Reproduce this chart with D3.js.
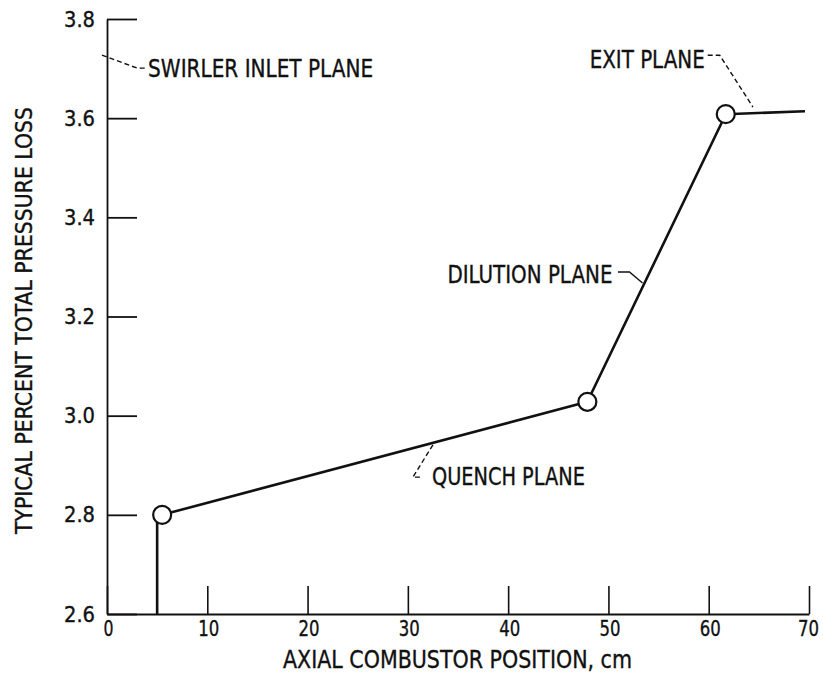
<!DOCTYPE html>
<html>
<head>
<meta charset="utf-8">
<script src="https://cdn.jsdelivr.net/npm/d3@7"></script>
<style>
  html, body { margin: 0; padding: 0; background: #fff; }
  svg text { font-family: "DejaVu Sans Condensed", "DejaVu Sans", sans-serif; fill: #111; stroke: #111; stroke-width: 0.35px; }
</style>
</head>
<body>
<svg id="chart" width="823" height="677"></svg>
<script>
// ---- data ----
const positions = [5.0, 5.0, 5.5, 47.9, 61.7, 69.6];           // axial position, cm
const pressureLoss = [2.6, 2.79, 2.80, 3.028, 3.608, 3.614];      // percent total pressure loss
const markerPositions = [5.5, 47.9, 61.7];
const markerValues = [2.80, 3.028, 3.608];
const xTicks = [0, 10, 20, 30, 40, 50, 60, 70];
const yTicks = [2.6, 2.8, 3.0, 3.2, 3.4, 3.6, 3.8];
const yTickLabels = ["2.6", "2.8", "3.0", "3.2", "3.4", "3.6", "3.8"];
const xTitle = "AXIAL COMBUSTOR POSITION, cm";
const yTitle = "TYPICAL PERCENT TOTAL PRESSURE LOSS";
// annotation labels (in data units)
const labelNames = ["SWIRLER INLET PLANE", "EXIT PLANE", "DILUTION PLANE", "QUENCH PLANE"];
const labelAnchor = ["start", "end", "end", "start"];
const labelX = [4.1, 59.6, 50.4, 32.4];
const labelY = [3.683, 3.701, 3.2676, 2.860];
const labelWidth = [225, 115, 165, 153];
const leaderX = [[-0.5, 3.0, 4.0], [59.9, 61.1, 64.4], [50.95, 52.1, 53.4], [32.5, 30.5, 31.3]];
const leaderY = [[3.727, 3.701, 3.701], [3.727, 3.727, 3.6225], [3.2897, 3.2897, 3.2676], [2.941, 2.876, 2.876]];
const leaderDashed = [true, true, false, true];

// ---- chart ----
const svg = d3.select("#chart");
const x = d3.scaleLinear().domain([0, 70]).range([107, 809]);
const y = d3.scaleLinear().domain([2.6, 3.8]).range([614, 19]);

const tickFont = 22;
const labelFont = 24.5;

// y axis
const yAxis = d3.axisLeft(y)
  .tickValues(yTicks)
  .tickFormat((d, i) => yTickLabels[i])
  .tickSizeInner(-30)
  .tickSizeOuter(0)
  .tickPadding(12);
const gy = svg.append("g").attr("transform", `translate(${x(0)},0)`).call(yAxis);
gy.select(".domain").attr("stroke", "#111").attr("stroke-width", 1.8);
gy.selectAll(".tick line").attr("stroke", "#111").attr("stroke-width", 1.8);
gy.selectAll(".tick text").attr("font-size", tickFont).attr("font-family", null)
  .attr("textLength", 31).attr("lengthAdjust", "spacingAndGlyphs");

// x axis
const xAxis = d3.axisBottom(x)
  .tickValues(xTicks)
  .tickSizeInner(-28)
  .tickSizeOuter(0)
  .tickPadding(6);
const gx = svg.append("g").attr("transform", `translate(0,${y(2.6)})`).call(xAxis);
gx.select(".domain").attr("stroke", "#111").attr("stroke-width", 1.8);
gx.selectAll(".tick line").attr("stroke", "#111").attr("stroke-width", 1.6);
gx.selectAll(".tick text").attr("font-size", tickFont).attr("font-family", null)
  .attr("dx", d => d === 70 ? -1 : 1)
  .attr("textLength", d => String(d).length * 11 - 1).attr("lengthAdjust", "spacingAndGlyphs");

// axis titles
svg.append("text")
  .attr("x", 457.5).attr("y", 668)
  .attr("text-anchor", "middle")
  .attr("font-size", 25.5)
  .attr("textLength", 349).attr("lengthAdjust", "spacingAndGlyphs")
  .text(xTitle);
svg.append("text")
  .attr("transform", "translate(32,320.5) rotate(-90)")
  .attr("text-anchor", "middle")
  .attr("font-size", 23.5)
  .attr("textLength", 427).attr("lengthAdjust", "spacingAndGlyphs")
  .text(yTitle);

// data line
const line = d3.line().x(d => x(d[0])).y(d => y(d[1]));
svg.append("path")
  .datum(positions.map((p, i) => [p, pressureLoss[i]]))
  .attr("d", line)
  .attr("fill", "none")
  .attr("stroke", "#111")
  .attr("stroke-width", 2.6)
  .attr("stroke-linejoin", "round");

// markers
svg.selectAll("circle.m")
  .data(markerPositions.map((p, i) => [p, markerValues[i]]))
  .enter().append("circle")
  .attr("class", "m")
  .attr("cx", d => x(d[0])).attr("cy", d => y(d[1]))
  .attr("r", 9)
  .attr("fill", "#fff")
  .attr("stroke", "#111")
  .attr("stroke-width", 2.2);

// annotations
labelNames.forEach((name, i) => {
  svg.append("path")
    .datum(leaderX[i].map((lx, j) => [lx, leaderY[i][j]]))
    .attr("d", line)
    .attr("fill", "none")
    .attr("stroke", "#111")
    .attr("stroke-width", 1.4)
    .attr("stroke-dasharray", leaderDashed[i] ? "5,3" : null);
  svg.append("text")
    .attr("x", x(labelX[i])).attr("y", y(labelY[i]))
    .attr("text-anchor", labelAnchor[i])
    .attr("font-size", labelFont)
    .attr("textLength", labelWidth[i]).attr("lengthAdjust", "spacingAndGlyphs")
    .text(name);
});
</script>
</body>
</html>
